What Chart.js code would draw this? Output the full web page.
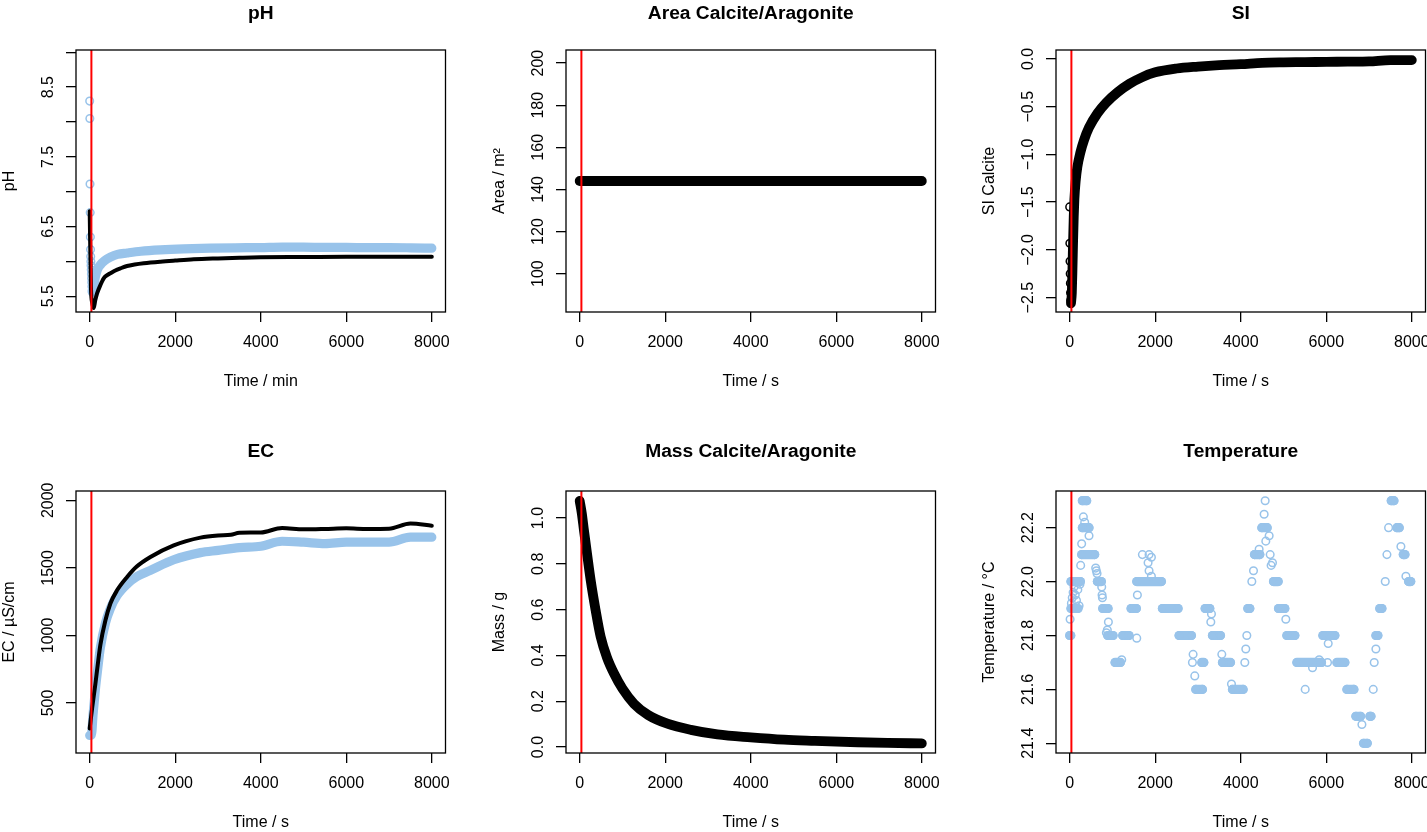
<!DOCTYPE html>
<html><head><meta charset="utf-8">
<script src="https://cdn.jsdelivr.net/npm/chart.js@4.4.1/dist/chart.umd.min.js"></script>
<style>
html,body{margin:0;padding:0;background:#fff;}
body{width:1427px;height:832px;overflow:hidden;position:relative;}
.panel{position:absolute;width:470px;height:416px;}
canvas{display:block;}
</style></head>
<body>
<div class="panel" style="left:0px;top:-10px"><canvas id="c0" width="470" height="416"></canvas></div>
<div class="panel" style="left:490px;top:-10px"><canvas id="c1" width="470" height="416"></canvas></div>
<div class="panel" style="left:980px;top:-10px"><canvas id="c2" width="470" height="416"></canvas></div>
<div class="panel" style="left:0px;top:431px"><canvas id="c3" width="470" height="416"></canvas></div>
<div class="panel" style="left:490px;top:431px"><canvas id="c4" width="470" height="416"></canvas></div>
<div class="panel" style="left:980px;top:431px"><canvas id="c5" width="470" height="416"></canvas></div>
<script>
// ---------------- DATA ----------------
const xRange = [-320, 8320];
const xTickValues = [0, 2000, 4000, 6000, 8000];
const xTickLabels = ['0', '2000', '4000', '6000', '8000'];
const eventTime = [40];

// pH
const phRange = [5.274, 9.033];
const phYTickValues = [5.5, 6.0, 6.5, 7.0, 7.5, 8.0, 8.5, 9.0];
const phYTickLabels = ['5.5', '6.5', '7.5', '8.5'];
const phModelTime = [0, 30, 60, 94, 130, 173, 250, 328, 400, 484, 600, 718, 874, 1050, 1263, 1654, 2000, 2433, 3000, 3500, 3993, 5000, 6000, 7000, 8000];
const phModel = [6.72, 5.62, 5.40, 5.33, 5.44, 5.54, 5.66, 5.757, 5.80, 5.83, 5.87, 5.90, 5.934, 5.955, 5.973, 5.996, 6.012, 6.03, 6.043, 6.052, 6.059, 6.062, 6.065, 6.066, 6.067];
const phEarlyTime = [0, 4, 8, 12, 16, 20, 24, 28, 32, 36, 40, 44, 48, 52, 56];
const phEarly = [8.30, 8.05, 7.11, 6.70, 6.35, 6.17, 6.07, 6.00, 5.94, 5.88, 5.82, 5.76, 5.70, 5.64, 5.58];
const phMeasTime = [60, 90, 133, 180, 250, 350, 484, 650, 874, 1200, 1654, 2200, 2823, 3400, 3993, 4500, 5000, 5500, 6000, 6500, 7000, 7500, 8000];
const phMeas = [5.56, 5.62, 5.78, 5.88, 5.95, 6.01, 6.06, 6.10, 6.12, 6.145, 6.165, 6.18, 6.19, 6.195, 6.198, 6.205, 6.205, 6.20, 6.20, 6.198, 6.198, 6.195, 6.19];

// Area
const areaRange = [81.79, 206.21];
const areaYTickValues = [100, 120, 140, 160, 180, 200];
const areaYTickLabels = ['100', '120', '140', '160', '180', '200'];
const areaTime = [0, 2000, 4000, 6000, 8000];
const areaValue = [144, 144, 144, 144, 144];

// SI
const siRange = [-2.651, 0.094];
const siYTickValues = [-2.5, -2.0, -1.5, -1.0, -0.5, 0.0];
const siYTickLabels = ['\u22122.5', '\u22122.0', '\u22121.5', '\u22121.0', '\u22120.5', '0.0'];
const siEarlyTime = [0, 4, 8, 12, 16, 20, 24];
const siEarly = [-1.55, -1.93, -2.12, -2.25, -2.35, -2.45, -2.53];
const siTime = [30, 50, 65, 80, 95, 110, 140, 180, 250, 335, 450, 648, 850, 1116, 1400, 1700, 2000, 2500, 3000, 3500, 4000, 4500, 5000, 5500, 6000, 6500, 7000, 7500, 8000];
const siValue = [-2.56, -2.45, -2.2, -1.9, -1.65, -1.47, -1.28, -1.13, -0.98, -0.85, -0.72, -0.57, -0.46, -0.35, -0.26, -0.19, -0.14, -0.10, -0.08, -0.065, -0.055, -0.04, -0.035, -0.033, -0.03, -0.028, -0.025, -0.012, -0.012];

// EC
const ecRange = [130, 2069];
const ecYTickValues = [500, 1000, 1500, 2000];
const ecYTickLabels = ['500', '1000', '1500', '2000'];
const ecModelTime = [0, 56, 133, 187, 250, 367, 484, 640, 875, 1100, 1420, 1965, 2590, 3000, 3300, 3500, 4000, 4500, 5000, 5500, 6000, 6500, 7000, 7500, 8000];
const ecModel = [311, 460, 640, 780, 930, 1110, 1236, 1334, 1433, 1510, 1581, 1667, 1724, 1740, 1745, 1760, 1762, 1795, 1785, 1788, 1793, 1788, 1790, 1828, 1812];
const ecMeasTime = [0, 40, 80, 133, 187, 250, 367, 484, 640, 875, 1100, 1420, 1965, 2590, 3000, 3500, 4000, 4500, 5000, 5500, 6000, 6500, 7000, 7500, 8000];
const ecMeas = [260, 262, 420, 600, 750, 910, 1090, 1200, 1295, 1380, 1435, 1482, 1560, 1613, 1630, 1650, 1660, 1697, 1690, 1680, 1690, 1690, 1690, 1727, 1727];

// Mass
const massRange = [-0.026, 1.118];
const massYTickValues = [0, 0.2, 0.4, 0.6, 0.8, 1.0];
const massYTickLabels = ['0.0', '0.2', '0.4', '0.6', '0.8', '1.0'];
const massTime = [0, 50, 100, 175, 257, 370, 491, 640, 803, 1000, 1271, 1600, 2051, 2600, 3221, 4000, 4780, 5500, 6500, 7200, 8000];
const massValue = [1.075, 1.02, 0.946, 0.84, 0.728, 0.60, 0.481, 0.39, 0.321, 0.255, 0.189, 0.14, 0.102, 0.075, 0.055, 0.042, 0.032, 0.027, 0.021, 0.018, 0.016];

// Temperature (runs of equal readings listed as first/last reading)
const tempRange = [21.364, 22.336];
const tempYTickValues = [21.4, 21.6, 21.8, 22.0, 22.2];
const tempYTickLabels = ['21.4', '21.6', '21.8', '22.0', '22.2'];
const tempTime = [0, 25, 10, 30, 195, 40, 60, 80, 100, 130, 160, 190, 220, 240, 30, 250, 257, 280, 280, 585, 320, 296, 398, 351, 296, 452, 452, 608, 624, 640, 647, 741, 749, 757, 765, 772, 897, 905, 880, 858, 889, 1014, 1061, 1186, 1217, 1240, 1388, 1435, 1560, 1568, 1583, 1568, 2145, 1700, 1833, 1856, 1856, 1911, 1911, 2168, 2535, 2558, 2847, 2886, 2870, 2925, 2948, 3104, 3089, 3136, 3167, 3276, 3315, 3300, 3338, 3526, 3557, 3572, 3760, 3783, 3806, 4056, 4095, 4118, 4142, 4165, 4212, 4259, 4298, 4321, 4446, 4430, 4493, 4618, 4547, 4571, 4586, 4664, 4688, 4710, 4742, 4766, 4875, 4883, 5031, 5054, 5078, 5265, 5312, 5889, 5507, 5678, 5834, 6029, 5920, 6201, 6045, 6248, 6435, 6482, 6646, 6692, 6802, 6833, 6872, 6958, 7020, 7045, 7098, 7121, 7160, 7160, 7207, 7250, 7301, 7379, 7418, 7457, 7519, 7582, 7652, 7706, 7745, 7800, 7840, 7862, 7925, 7975];
const tempValue = [21.8, 21.8, 21.86, 21.9, 21.9, 21.92, 21.94, 21.96, 21.98, 21.95, 21.93, 21.97, 21.91, 21.99, 22.0, 22.0, 22.06, 22.14, 22.1, 22.1, 22.24, 22.3, 22.3, 22.22, 22.2, 22.2, 22.17, 22.05, 22.04, 22.03, 22.0, 22.0, 21.98, 21.95, 21.94, 21.9, 21.9, 21.85, 21.82, 21.81, 21.8, 21.8, 21.7, 21.7, 21.71, 21.8, 21.8, 21.9, 21.9, 21.79, 21.95, 22.0, 22.0, 22.1, 22.07, 22.04, 22.1, 22.09, 22.02, 21.9, 21.9, 21.8, 21.8, 21.73, 21.7, 21.65, 21.6, 21.6, 21.7, 21.7, 21.9, 21.9, 21.88, 21.85, 21.8, 21.8, 21.73, 21.7, 21.7, 21.62, 21.6, 21.6, 21.7, 21.75, 21.8, 21.9, 21.9, 22.0, 22.04, 22.1, 22.1, 22.12, 22.2, 22.2, 22.25, 22.3, 22.15, 22.17, 22.1, 22.06, 22.07, 22.0, 22.0, 21.9, 21.9, 21.86, 21.8, 21.8, 21.7, 21.7, 21.6, 21.68, 21.71, 21.7, 21.8, 21.8, 21.77, 21.7, 21.7, 21.6, 21.6, 21.5, 21.5, 21.47, 21.4, 21.4, 21.5, 21.5, 21.6, 21.7, 21.75, 21.8, 21.8, 21.9, 21.9, 22.0, 22.1, 22.2, 22.3, 22.3, 22.2, 22.2, 22.13, 22.1, 22.1, 22.02, 22.0, 22.0];

// ---------------- STYLE / BUILD ----------------
const FONT = '"Liberation Sans", Arial, Helvetica, sans-serif';
Chart.defaults.font.family = FONT;
Chart.defaults.font.size = 16;
Chart.defaults.color = '#000';

const BLACK = '#000000';
const BLUE = '#98c3ea';
const RED = '#ff0000';

const mctx = document.createElement('canvas').getContext('2d');
function widest(labels) {
  mctx.font = '16px ' + FONT;
  return Math.max(...labels.map(l => mctx.measureText(l).width));
}
function fmt(v, d) {
  let s = (Math.abs(v) < 1e-9 ? 0 : v).toFixed(d);
  return s.replace('-', '\u2212');
}
function xy(ts, vs) { return ts.map((t, i) => ({x: t, y: vs[i]})); }
function bandSet(label, ts, vs, color, width) {
  return {label, data: xy(ts, vs), showLine: true, borderColor: color, borderWidth: width,
    borderCapStyle: 'round', borderJoinStyle: 'round', pointRadius: 0, cubicInterpolationMode: 'monotone'};
}
function circleSet(label, ts, vs, color) {
  return {label, data: xy(ts, vs), showLine: false, pointStyle: 'circle', pointRadius: 3.8,
    pointBorderWidth: 1.5, pointBorderColor: color, pointBackgroundColor: 'rgba(0,0,0,0)'};
}
function redLine(range) {
  return {label: 'start', data: [{x: eventTime[0], y: range[0]}, {x: eventTime[0], y: range[1]}],
    showLine: true, borderColor: RED, borderWidth: 2, pointRadius: 0, tension: 0};
}

const boxPlugin = {
  id: 'rbox',
  afterDatasetsDraw(chart) {
    const a = chart.chartArea, c = chart.ctx;
    c.save(); c.strokeStyle = '#000'; c.lineWidth = 1.3;
    c.strokeRect(a.left, a.top, a.right - a.left, a.bottom - a.top);
    c.restore();
  }
};

function makeChart(id, p) {
  const w = widest(p.yLabels);
  const titlePad = p.row === 0 ? {top: 12, bottom: 24.96} : {top: 9.5, bottom: 27.46};
  new Chart(document.getElementById(id), {
    type: 'scatter',
    data: {datasets: p.datasets},
    options: {
      responsive: false, animation: false, devicePixelRatio: 1,
      layout: {padding: {left: 0, right: 24.5, top: 0, bottom: 14}},
      plugins: {
        legend: {display: false}, tooltip: {enabled: false},
        title: {display: true, text: p.title, color: '#000', fullSize: false,
          font: {size: 19.2, weight: 'bold', family: FONT}, padding: titlePad}
      },
      scales: {
        x: {type: 'linear', min: xRange[0], max: xRange[1],
          afterFit: s => { s.height = 80; },
          afterBuildTicks: s => { s.ticks = xTickValues.map(v => ({value: v})); },
          ticks: {autoSkip: false, maxRotation: 0, minRotation: 0,
            padding: 10.8, color: '#000', font: {size: 16},
            callback: v => { const s = String(v); return xTickLabels.includes(s) ? s : ''; }},
          grid: {display: true, drawOnChartArea: false, drawTicks: true, tickLength: 10, color: '#000', lineWidth: 1.3},
          border: {display: false},
          title: {display: true, text: p.xTitle, color: '#000', font: {size: 16}, padding: {top: 0, bottom: 1.0}}
        },
        y: {type: 'linear', min: p.range[0], max: p.range[1],
          afterFit: s => { s.width = 76; },
          afterBuildTicks: s => { s.ticks = p.yTicks.map(v => ({value: v})); },
          ticks: {autoSkip: false, minRotation: 90, maxRotation: 90,
            crossAlign: 'center', padding: 17.8 - w / 2, color: '#000', font: {size: 16},
            callback: v => { const s = fmt(v, p.dec); return p.yLabels.includes(s) ? s : ''; }},
          grid: {display: true, drawOnChartArea: false, drawTicks: true, tickLength: 10, color: '#000', lineWidth: 1.3},
          border: {display: false},
          title: {display: true, text: p.yTitle, color: '#000', font: {size: 16}, padding: {top: 0.4, bottom: 0}}
        }
      }
    },
    plugins: [boxPlugin]
  });
}

makeChart('c0', {row: 0, title: 'pH', xTitle: 'Time / min', yTitle: 'pH', range: phRange, yTicks: phYTickValues, dec: 1, yLabels: phYTickLabels,
  datasets: [redLine(phRange), bandSet('pH model', phModelTime, phModel, BLACK, 4),
    circleSet('pH measured (start)', phEarlyTime, phEarly, BLUE), bandSet('pH measured', phMeasTime, phMeas, BLUE, 9.2)]});
makeChart('c1', {row: 0, title: 'Area Calcite/Aragonite', xTitle: 'Time / s', yTitle: 'Area / m\u00b2', range: areaRange, yTicks: areaYTickValues, dec: 0, yLabels: areaYTickLabels,
  datasets: [redLine(areaRange), bandSet('Area', areaTime, areaValue, BLACK, 9.8)]});
makeChart('c2', {row: 0, title: 'SI', xTitle: 'Time / s', yTitle: 'SI Calcite', range: siRange, yTicks: siYTickValues, dec: 1, yLabels: siYTickLabels,
  datasets: [redLine(siRange), circleSet('SI (start)', siEarlyTime, siEarly, BLACK), bandSet('SI Calcite', siTime, siValue, BLACK, 9.8)]});
makeChart('c3', {row: 1, title: 'EC', xTitle: 'Time / s', yTitle: 'EC / \u00b5S/cm', range: ecRange, yTicks: ecYTickValues, dec: 0, yLabels: ecYTickLabels,
  datasets: [redLine(ecRange), bandSet('EC model', ecModelTime, ecModel, BLACK, 4), bandSet('EC measured', ecMeasTime, ecMeas, BLUE, 9.2)]});
makeChart('c4', {row: 1, title: 'Mass Calcite/Aragonite', xTitle: 'Time / s', yTitle: 'Mass / g', range: massRange, yTicks: massYTickValues, dec: 1, yLabels: massYTickLabels,
  datasets: [redLine(massRange), bandSet('Mass', massTime, massValue, BLACK, 9.8)]});
makeChart('c5', {row: 1, title: 'Temperature', xTitle: 'Time / s', yTitle: 'Temperature / \u00b0C', range: tempRange, yTicks: tempYTickValues, dec: 1, yLabels: tempYTickLabels,
  datasets: [redLine(tempRange), {
    label: 'Temperature', data: xy(tempTime, tempValue), showLine: true, tension: 0,
    borderColor: BLUE, borderWidth: 9.2, borderCapStyle: 'round',
    segment: {borderColor: ctx => (ctx.p0.parsed.y === ctx.p1.parsed.y ? BLUE : 'rgba(0,0,0,0)')},
    pointStyle: 'circle', pointRadius: 3.8, pointBorderWidth: 1.5, pointBorderColor: BLUE, pointBackgroundColor: 'rgba(0,0,0,0)'
  }]});
</script>
</body></html>
